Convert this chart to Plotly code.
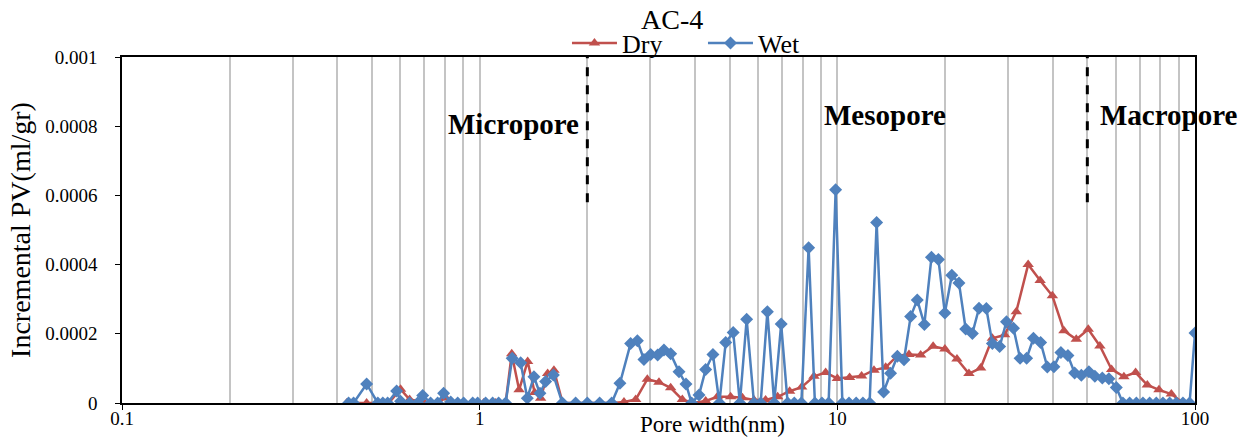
import math
import plotly.graph_objects as go

# Pore size distribution of AC-4 (DFT), dry and wet samples
dry_width = [0.425, 0.444, 0.483, 0.519, 0.557, 0.601, 0.637, 0.697, 0.763, 0.803,
             0.868, 0.956, 1.026, 1.108, 1.182, 1.229, 1.289, 1.362, 1.425, 1.481,
             1.549, 1.613, 1.706, 1.855, 2.004, 2.179, 2.350, 2.532, 2.730, 2.943,
             3.172, 3.420, 3.687, 3.940, 4.284, 4.618, 5.031, 5.427, 5.847, 6.302,
             6.810, 7.356, 7.948, 8.603, 9.275, 10.00, 10.82, 11.69, 12.66, 13.65,
             14.72, 15.86, 17.10, 18.53, 19.99, 21.60, 23.33, 25.16, 27.13, 29.36,
             31.65, 34.16, 36.90, 39.92, 43.01, 46.57, 50.30, 54.22, 58.46, 63.27,
             68.23, 73.57, 79.30, 85.87, 92.76]
dry_pv = [0, 0, 0, 0, 0, 0.000040, 0.000010, 0.000003, 0, 0.000015,
          0, 0, 0, 0, 0, 0.000142, 0.000038, 0.000120, 0.000030, 0.000014,
          0.000085, 0.000095, 0, 0, 0, 0, 0, 0.000003, 0.000010, 0.000069,
          0.000060, 0.000044, 0.000010, 0, 0.000006, 0.000018, 0.000018, 0.000015, 0.000009, 0.000009,
          0.000018, 0.000034, 0.000046, 0.000077, 0.000088, 0.000071, 0.000074, 0.000078, 0.000095, 0.000103,
          0.000137, 0.000140, 0.000139, 0.000164, 0.000156, 0.000127, 0.000085, 0.000101, 0.000187, 0.000197,
          0.000264, 0.000400, 0.000354, 0.000310, 0.000209, 0.000184, 0.000213, 0.000165, 0.000097, 0.000076,
          0.000088, 0.000052, 0.000038, 0.000026, 0]

wet_width = [0.430, 0.444, 0.483, 0.519, 0.536, 0.553, 0.586, 0.601, 0.637, 0.671,
             0.693, 0.729, 0.763, 0.793, 0.830, 0.868, 0.902, 0.956, 0.987, 1.039,
             1.087, 1.130, 1.182, 1.233, 1.302, 1.359, 1.418, 1.474, 1.529, 1.607,
             1.703, 1.855, 2.000, 2.165, 2.339, 2.467, 2.643, 2.760, 2.879, 3.007,
             3.145, 3.275, 3.420, 3.608, 3.774, 3.914, 4.104, 4.284, 4.490, 4.680,
             4.874, 5.115, 5.340, 5.578, 5.847, 6.105, 6.374, 6.659, 6.966, 7.262,
             7.582, 7.932, 8.313, 8.656, 9.057, 9.456, 9.892, 10.33, 10.78, 11.29,
             11.79, 12.31, 12.88, 13.47, 14.09, 14.72, 15.36, 16.03, 16.73, 17.51,
             18.33, 19.17, 19.98, 20.90, 21.88, 22.85, 23.85, 24.89, 26.10, 27.13,
             28.43, 29.71, 31.08, 32.43, 33.82, 35.34, 37.02, 38.65, 40.32, 42.18,
             44.13, 46.07, 48.10, 50.50, 52.49, 55.06, 57.44, 60.26, 62.87, 65.65,
             68.55, 71.52, 74.67, 77.96, 81.35, 84.92, 88.66, 92.52, 96.58, 100.0]
wet_pv = [0, 0, 0.000055, 0, 0, 0, 0.000035, 0.000005, 0, 0,
          0.000022, 0, 0, 0.000028, 0.000003, 0, 0, 0, 0, 0,
          0, 0, 0, 0.000129, 0.000116, 0.000014, 0.000076, 0.000028, 0.000062, 0.000081,
          0, 0, 0, 0, 0, 0.000057, 0.000172, 0.000180, 0.000126, 0.000140,
          0.000139, 0.000153, 0.000142, 0.000090, 0.000055, 0, 0.000023, 0.000097, 0.000140, 0,
          0.000175, 0.000204, 0, 0.000242, 0, 0, 0.000264, 0, 0.000228, 0,
          0, 0, 0.000449, 0, 0, 0, 0.000616, 0, 0, 0,
          0, 0, 0.000522, 0.000032, 0.000086, 0.000135, 0.000125, 0.000250, 0.000298, 0.000227,
          0.000421, 0.000415, 0.000260, 0.000369, 0.000347, 0.000214, 0.000201, 0.000274, 0.000273, 0.000172,
          0.000163, 0.000235, 0.000216, 0.000129, 0.000129, 0.000187, 0.000175, 0.000104, 0.000105, 0.000146,
          0.000137, 0.000087, 0.000080, 0.000090, 0.000077, 0.000072, 0.000070, 0.000045, 0, 0,
          0, 0, 0, 0, 0, 0, 0, 0, 0, 0.000202]

x_ticks = [0.1, 1, 10, 100]
x_tick_text = ["0.1", "1", "10", "100"]
y_ticks = [0, 0.0002, 0.0004, 0.0006, 0.0008, 0.001]
y_tick_text = ["0", "0.0002", "0.0004", "0.0006", "0.0008", "0.001"]

# pore class boundaries (nm) and region labels (label centre in nm, height)
boundaries = [2, 50]
regions = [("Micropore", 1.245, 0.000805), ("Mesopore", 13.56, 0.000832),
           ("Macropore", 84.6, 0.000832)]

SERIF = "Liberation Serif, Times New Roman, serif"
RED = "#C0504D"
BLUE = "#4F81BD"

fig = go.Figure()
fig.add_trace(go.Scatter(
    x=dry_width, y=dry_pv, name="Dry", mode="lines+markers",
    line=dict(color=RED, width=2.5),
    marker=dict(symbol="triangle-up", size=10, color=RED),
))
fig.add_trace(go.Scatter(
    x=wet_width, y=wet_pv, name="Wet", mode="lines+markers",
    line=dict(color=BLUE, width=2.5),
    marker=dict(symbol="diamond", size=10, color=BLUE),
))

for b in boundaries:
    fig.add_shape(type="line", xref="x", yref="y", x0=b, x1=b, y0=0.00058, y1=0.001,
                  line=dict(color="black", width=3, dash="dash"))

# annotations on a log axis take log10 positions
for text, xpos, ypos in regions:
    fig.add_annotation(x=math.log10(xpos), y=ypos, xref="x", yref="y",
                       text="<b>%s</b>" % text, showarrow=False,
                       font=dict(family=SERIF, size=29, color="black"),
                       xanchor="center", yanchor="middle")

fig.add_annotation(x=0.55, y=-0.063, xref="paper", yref="paper", text="Pore width(nm)",
                   showarrow=False, font=dict(family=SERIF, size=23, color="black"),
                   xanchor="center", yanchor="middle")

minor_vals = [m * 10 ** e for e in (-1, 0, 1) for m in range(2, 10)]

fig.update_layout(
    width=1253, height=443,
    margin=dict(l=122, r=58, t=57, b=40),
    paper_bgcolor="white", plot_bgcolor="white",
    font=dict(family=SERIF, size=18, color="black"),
    title=dict(text="AC-4", x=0.5365, xanchor="center", y=0.957, yanchor="middle",
               yref="container", font=dict(family=SERIF, size=28, color="black")),
    legend=dict(orientation="h", x=0.4147, xanchor="left", y=1.04, yanchor="middle",
                font=dict(family=SERIF, size=26), itemwidth=45, entrywidth=76,
                bgcolor="rgba(0,0,0,0)", itemsizing="trace"),
    showlegend=True,
)

fig.update_xaxes(
    type="log", range=[-1, 2], tickvals=x_ticks, ticktext=x_tick_text,
    showgrid=True, gridcolor="#c4c4c4", gridwidth=1.5,
    minor=dict(tickvals=minor_vals, showgrid=True, gridcolor="#c4c4c4", gridwidth=1.5, ticks=""),
    showline=True, linecolor="black", linewidth=2, mirror=True,
    ticks="outside", ticklen=5, tickcolor="black", ticklabelstandoff=-8,
    tickfont=dict(family=SERIF, size=19), zeroline=False,
)
fig.update_yaxes(
    range=[0, 0.001], tickvals=y_ticks, ticktext=y_tick_text,
    showgrid=False, showline=True, linecolor="black", linewidth=1.5, mirror=True,
    ticks="outside", ticklen=5, tickcolor="black", ticklabelstandoff=14,
    tickfont=dict(family=SERIF, size=19), zeroline=False,
    title=dict(text="Incremental PV(ml/gr)", font=dict(family=SERIF, size=28), standoff=6),
)

fig.write_html("out.html")
